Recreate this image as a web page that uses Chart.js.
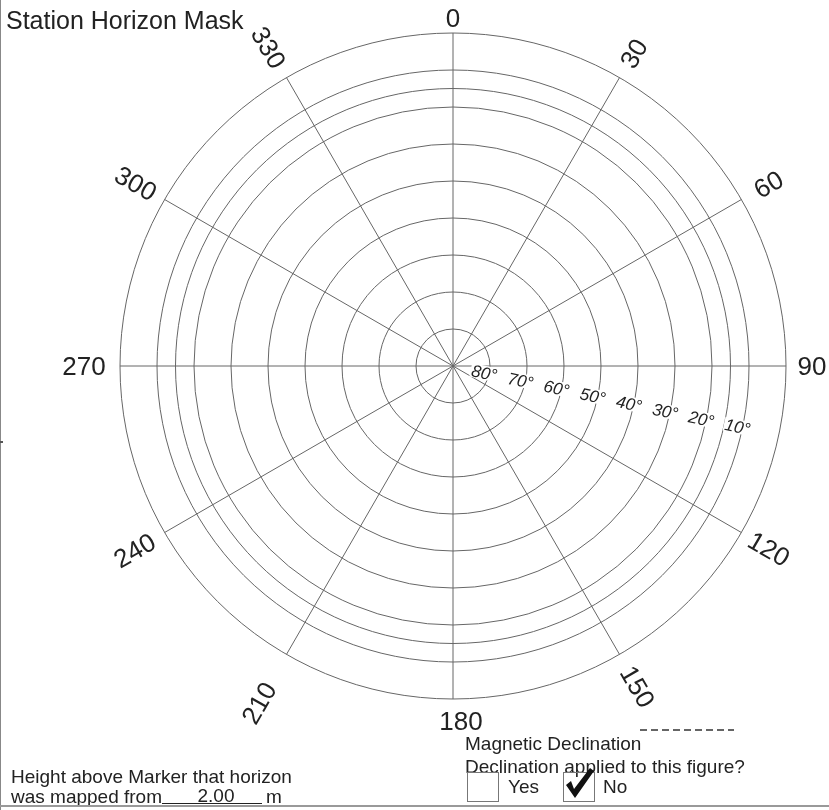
<!DOCTYPE html>
<html>
<head>
<meta charset="utf-8">
<script src="https://cdn.jsdelivr.net/npm/chart.js@4.4.1/dist/chart.umd.min.js"></script>
<style>
  body { margin: 0; width: 829px; height: 810px; overflow: hidden; background: #fff;
         font-family: "Liberation Sans", Arial, sans-serif; color: #222; }
  #wrap { position: absolute; left: 0; top: 0; width: 829px; height: 810px; }
  .t { position: absolute; white-space: nowrap; line-height: 1; }
  .box { position: absolute; width: 30px; height: 28px; border: 1px solid #777; }
</style>
</head>
<body>
<div id="wrap"><canvas id="maskChart"></canvas></div>

<div class="t" style="left:6px;top:8px;font-size:25px">Station Horizon Mask</div>

<div class="t" style="left:11px;top:767px;font-size:19px">Height above Marker that horizon</div>
<div class="t" style="left:11px;top:787px;font-size:19px">was mapped from</div>
<div style="position:absolute;left:162px;top:803px;width:100px;height:1px;background:#222"></div>
<div class="t" id="heightVal" style="left:166px;top:786px;width:100px;text-align:center;font-size:19px"></div>
<div class="t" style="left:266px;top:787px;font-size:19px">m</div>

<svg style="position:absolute;left:638px;top:725px" width="100" height="10">
  <line x1="2" y1="5" x2="96" y2="5" stroke="#333" stroke-width="1.6" stroke-dasharray="7 4"/>
</svg>
<div class="t" style="left:465px;top:734px;font-size:19px">Magnetic Declination</div>
<div class="t" style="left:465px;top:757px;font-size:19px">Declination applied to this figure?</div>
<div class="box" style="left:467px;top:772px"></div>
<div class="t" style="left:508px;top:777px;font-size:19px">Yes</div>
<div class="box" style="left:563px;top:772px"></div>
<svg style="position:absolute;left:563px;top:766px" width="34" height="36">
  <path d="M3 19 L8 15 L11 23 L27 2 L31 5 L12 32 Z" fill="#111"/>
</svg>
<div class="t" style="left:603px;top:777px;font-size:19px">No</div>

<div style="position:absolute;left:0;top:0;width:1px;height:810px;background:#888"></div>
<div style="position:absolute;left:0;top:441px;width:3px;height:2px;background:#555"></div>
<div style="position:absolute;left:0;top:805px;width:829px;height:2px;background:#999"></div>

<script>
// azimuth spokes (degrees from north, clockwise)
const azimuthLabels = ['0', '30', '60', '90', '120', '150', '180', '210', '240', '270', '300', '330'];
// elevation circles drawn on the mask (degrees above horizon)
const elevationRings = [80, 70, 60, 50, 40, 30, 20, 15, 10, 0];
// elevation circles that carry a label
const elevationLabels = [80, 70, 60, 50, 40, 30, 20, 10];
// horizon obstruction elevations per azimuth (none marked on this form)
const maskElevation = [];
const markerHeight = '2.00';

document.getElementById('heightVal').textContent = markerHeight;

// radial value = zenith distance, so the horizon (0 deg) is the outer ring
const zenithTicks = [0].concat(elevationRings.map(e => 90 - e)).sort((a, b) => a - b);

// extra distance past the outer ring for each azimuth label
const azGap = [15, 28, 31, 26, 32, 37, 22, 56, 35, 36, 33, 35];

const labelPlugin = {
  id: 'maskLabels',
  afterDraw(chart) {
    const s = chart.scales.r;
    const ctx = chart.ctx;
    const cx = s.xCenter, cy = s.yCenter, R = s.drawingArea;
    ctx.save();
    ctx.fillStyle = '#222';

    // azimuth labels, rotated along the spoke except the cardinal ones
    const fs = 26;
    ctx.font = fs + 'px "Liberation Sans", Arial, sans-serif';
    ctx.textAlign = 'center';
    ctx.textBaseline = 'alphabetic';
    azimuthLabels.forEach((lab, i) => {
      const az = Number(lab);
      const a = az * Math.PI / 180;
      const d = R + azGap[i];
      const x = cx + d * Math.sin(a) + (az === 180 ? 8 : 0);
      const y = cy - d * Math.cos(a);
      let rot = 0;
      if (az % 90 !== 0) rot = az < 180 ? az - 90 : az - 270;
      ctx.save();
      ctx.translate(x, y);
      ctx.rotate(rot * Math.PI / 180);
      ctx.fillText(lab, 0, fs * 0.358);
      ctx.restore();
    });

    // elevation labels along a line 12 deg below east
    const t = 12 * Math.PI / 180;
    const es = 17;
    ctx.font = 'italic ' + es + 'px "Liberation Sans", Arial, sans-serif';
    elevationLabels.forEach(e => {
      const d = s.getDistanceFromCenterForValue(90 - e) - 5;
      const x = cx + d * Math.cos(t);
      const y = cy + d * Math.sin(t);
      const txt = e + '\u00B0';
      const w = ctx.measureText(txt).width;
      ctx.save();
      ctx.translate(x, y);
      ctx.rotate(t);
      ctx.fillStyle = '#fff';
      ctx.fillRect(-w / 2 - 1, -7, w + 2, 14);
      ctx.fillStyle = '#222';
      ctx.fillText(txt, 0, es * 0.358);
      ctx.restore();
    });
    ctx.restore();
  }
};

const ctx = document.getElementById('maskChart').getContext('2d');

new Chart(ctx, {
  type: 'radar',
  data: {
    labels: azimuthLabels,
    datasets: [{
      label: 'Horizon mask',
      data: maskElevation.map(e => 90 - e),
      borderColor: '#000',
      borderWidth: 2,
      pointRadius: 0,
      fill: false
    }]
  },
  options: {
    responsive: true,
    maintainAspectRatio: false,
    animation: false,
    layout: { padding: { left: 120, right: 43, top: 33, bottom: 111 } },
    plugins: { legend: { display: false }, tooltip: { enabled: false } },
    scales: {
      r: {
        min: 0,
        max: 90,
        afterBuildTicks: scale => { scale.ticks = zenithTicks.map(v => ({ value: v })); },
        grid: { circular: true, color: '#666', lineWidth: 1 },
        angleLines: { color: '#666', lineWidth: 1 },
        pointLabels: { display: false },
        ticks: { display: false }
      }
    }
  },
  plugins: [labelPlugin]
});
</script>
</body>
</html>
